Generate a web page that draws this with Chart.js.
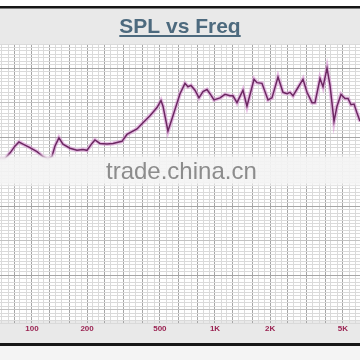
<!DOCTYPE html>
<html lang="en">
<head>
<meta charset="UTF-8" />
<title>SPL vs Freq</title>
<style>
  html, body { margin: 0; padding: 0; background: #fff; }
  #wrap { width: 360px; height: 360px; }
</style>
</head>
<body>
<div id="wrap"><canvas id="splChart" width="360" height="360"></canvas></div>

<script src="https://cdn.jsdelivr.net/npm/chart.js"></script>
<script>
  const FREQ = [66.9, 71.2, 75.8, 80.7, 84.9, 89.3, 97.5, 106.5, 114.8, 122.3,
    128.6, 133.5, 140.4, 147.7, 161.3, 176.2, 190, 199.8, 212.7, 220.9,
    235.2, 256.9, 277.1, 298.8, 310.3, 330.4, 374.8, 404.2, 441.4, 482,
    506.9, 519.8, 553.4, 589.5, 643.9, 685.5, 711.8, 739.2, 777.4, 817.5,
    859.8, 904.1, 938.9, 987.4, 1065, 1134, 1207, 1254, 1319, 1422,
    1495, 1634, 1696, 1806, 1948, 2048, 2209, 2352, 2474, 2569,
    2668, 2841, 3025, 3182, 3388, 3518, 3747, 3892, 4093, 4250,
    4469, 4641, 4881, 5133, 5330, 5535, 5748, 5969, 6197];
  const SPL = [86.9, 86.9, 87.7, 88.7, 89.3, 89.0, 88.5, 87.9, 87.2, 86.9,
    87.2, 88.7, 89.9, 89.0, 88.4, 88.1, 88.2, 88.1, 89.1, 89.6,
    89.1, 89.0, 89.1, 89.3, 89.4, 90.4, 91.2, 92.1, 93.1, 94.3,
    95.3, 94.5, 90.9, 93.1, 96.3, 97.8, 97.3, 97.5, 96.8, 95.7,
    96.6, 96.9, 96.3, 95.4, 95.7, 96.2, 96.0, 96.0, 95.0, 96.8,
    94.5, 98.4, 97.9, 97.8, 95.4, 95.7, 98.7, 96.5, 96.3, 96.5,
    96.0, 97.2, 98.4, 96.5, 95.0, 95.0, 98.5, 97.3, 100.0, 97.5,
    92.3, 94.5, 96.2, 95.6, 95.6, 94.7, 94.8, 93.5, 92.3];

  const X_LABELS = { 100: "100", 200: "200", 500: "500", 1000: "1K", 2000: "2K", 5000: "5K" };
  // third-octave lines are darker, the in-between ones light
  const GRID_MAJOR = [1, 1.25, 1.6, 2, 2.5, 3.15, 4, 5, 6.3, 8];
  const GRID_MINOR = [1.08, 1.16, 1.35, 1.45, 1.72, 1.86, 2.15, 2.32, 2.7, 2.92,
    3.4, 3.7, 4.3, 4.65, 5.4, 5.85, 6.8, 7.4, 8.6, 9.3];
  const DECADES = [10, 100, 1000];

  const F_MIN = 66.9;
  const F_MAX = 6197;
  const DB_MIN = 63;
  const DB_MAX = 103.5;

  function freqTicks() {
    const list = [];
    DECADES.forEach((d) => {
      GRID_MAJOR.forEach((m) => list.push({ value: Math.round(m * d * 100) / 100, level: 2 }));
      GRID_MINOR.forEach((m) => list.push({ value: Math.round(m * d * 100) / 100, level: 0 }));
    });
    return list.filter((t) => t.value >= F_MIN && t.value <= F_MAX).sort((a, b) => a.value - b.value);
  }

  function dbTicks() {
    const list = [];
    for (let v = Math.ceil(DB_MIN); v <= DB_MAX; v += 0.5) {
      list.push({ value: v, level: v % 10 === 0 ? 2 : v % 5 === 0 ? 1 : 0 });
    }
    return list;
  }

  const GRID_COLORS = ["#dadada", "#c2c2c2", "#a6a6a6"];

  // panels, title and watermark around the plot
  const framePlugin = {
    id: "frame",
    beforeDraw(chart) {
      const ctx = chart.ctx;
      const w = chart.width;
      ctx.save();
      ctx.fillStyle = "#ffffff";
      ctx.fillRect(0, 0, w, chart.height);
      ctx.fillStyle = "#e9e9e9";
      ctx.fillRect(0, 8, w, 36);
      ctx.fillRect(0, 320, w, 23);
      ctx.fillStyle = "#f4f4f4";
      ctx.fillRect(0, 346, w, 14);
      ctx.fillStyle = "#161616";
      ctx.fillRect(0, 6, w, 2.5);
      ctx.fillRect(0, 343, w, 3);
      ctx.restore();
    },
    afterDraw(chart) {
      const ctx = chart.ctx;
      const w = chart.width;
      ctx.save();
      // title
      ctx.font = "bold 21px 'Liberation Sans', Arial, sans-serif";
      ctx.fillStyle = "#4d6a7e";
      ctx.textAlign = "center";
      ctx.textBaseline = "alphabetic";
      ctx.fillText("SPL vs Freq", 180, 33);
      const tw = ctx.measureText("SPL vs Freq").width;
      ctx.fillRect(180 - tw / 2, 35, tw, 2);

      // watermark band
      const g = ctx.createLinearGradient(0, 153, 0, 188);
      g.addColorStop(0, "rgba(244,244,244,0)");
      g.addColorStop(0.15, "rgba(244,244,244,0.93)");
      g.addColorStop(0.85, "rgba(244,244,244,0.93)");
      g.addColorStop(1, "rgba(244,244,244,0)");
      ctx.fillStyle = g;
      ctx.fillRect(0, 153, w, 35);
      ctx.font = "24px 'Liberation Sans', Arial, sans-serif";
      ctx.fillStyle = "#8c8c8c";
      ctx.textAlign = "left";
      ctx.fillText("trade.china.cn", 106, 179);
      ctx.restore();
    },
  };

  new Chart(document.getElementById("splChart"), {
    type: "line",
    data: {
      labels: FREQ,
      datasets: [
        {
          data: FREQ.map((f, i) => ({ x: f, y: SPL[i] })),
          borderColor: "#6c2862",
          borderWidth: 1.5,
          pointRadius: 0,
          tension: 0,
        },
        {
          data: FREQ.map((f, i) => ({ x: f, y: SPL[i] })),
          borderColor: "rgba(214,140,208,0.55)",
          borderWidth: 4,
          pointRadius: 0,
          tension: 0,
        },
      ],
    },
    options: {
      responsive: false,
      animation: false,
      events: [],
      layout: { autoPadding: false, padding: { top: 44, bottom: 26.8, left: 0, right: 0 } },
      plugins: { legend: { display: false }, tooltip: { enabled: false }, title: { display: false } },
      scales: {
        x: {
          type: "logarithmic",
          bounds: "data",
          min: F_MIN,
          max: F_MAX,
          afterBuildTicks: (scale) => { scale.ticks = freqTicks(); },
          border: { display: false },
          grid: {
            drawTicks: false,
            color: (c) => GRID_COLORS[c.tick ? c.tick.level : 0],
          },
          ticks: {
            autoSkip: false,
            maxRotation: 0,
            padding: 0,
            color: "#9a2352",
            font: { family: "'Liberation Sans', Arial, sans-serif", size: 8, weight: "bold" },
            callback: (v) => X_LABELS[v] || "",
          },
        },
        y: {
          min: DB_MIN,
          max: DB_MAX,
          afterBuildTicks: (scale) => { scale.ticks = dbTicks(); },
          border: { display: false },
          grid: {
            drawTicks: false,
            color: (c) => GRID_COLORS[c.tick ? c.tick.level : 0],
          },
          ticks: { display: false },
        },
      },
    },
    plugins: [framePlugin],
  });
</script>
</body>
</html>
